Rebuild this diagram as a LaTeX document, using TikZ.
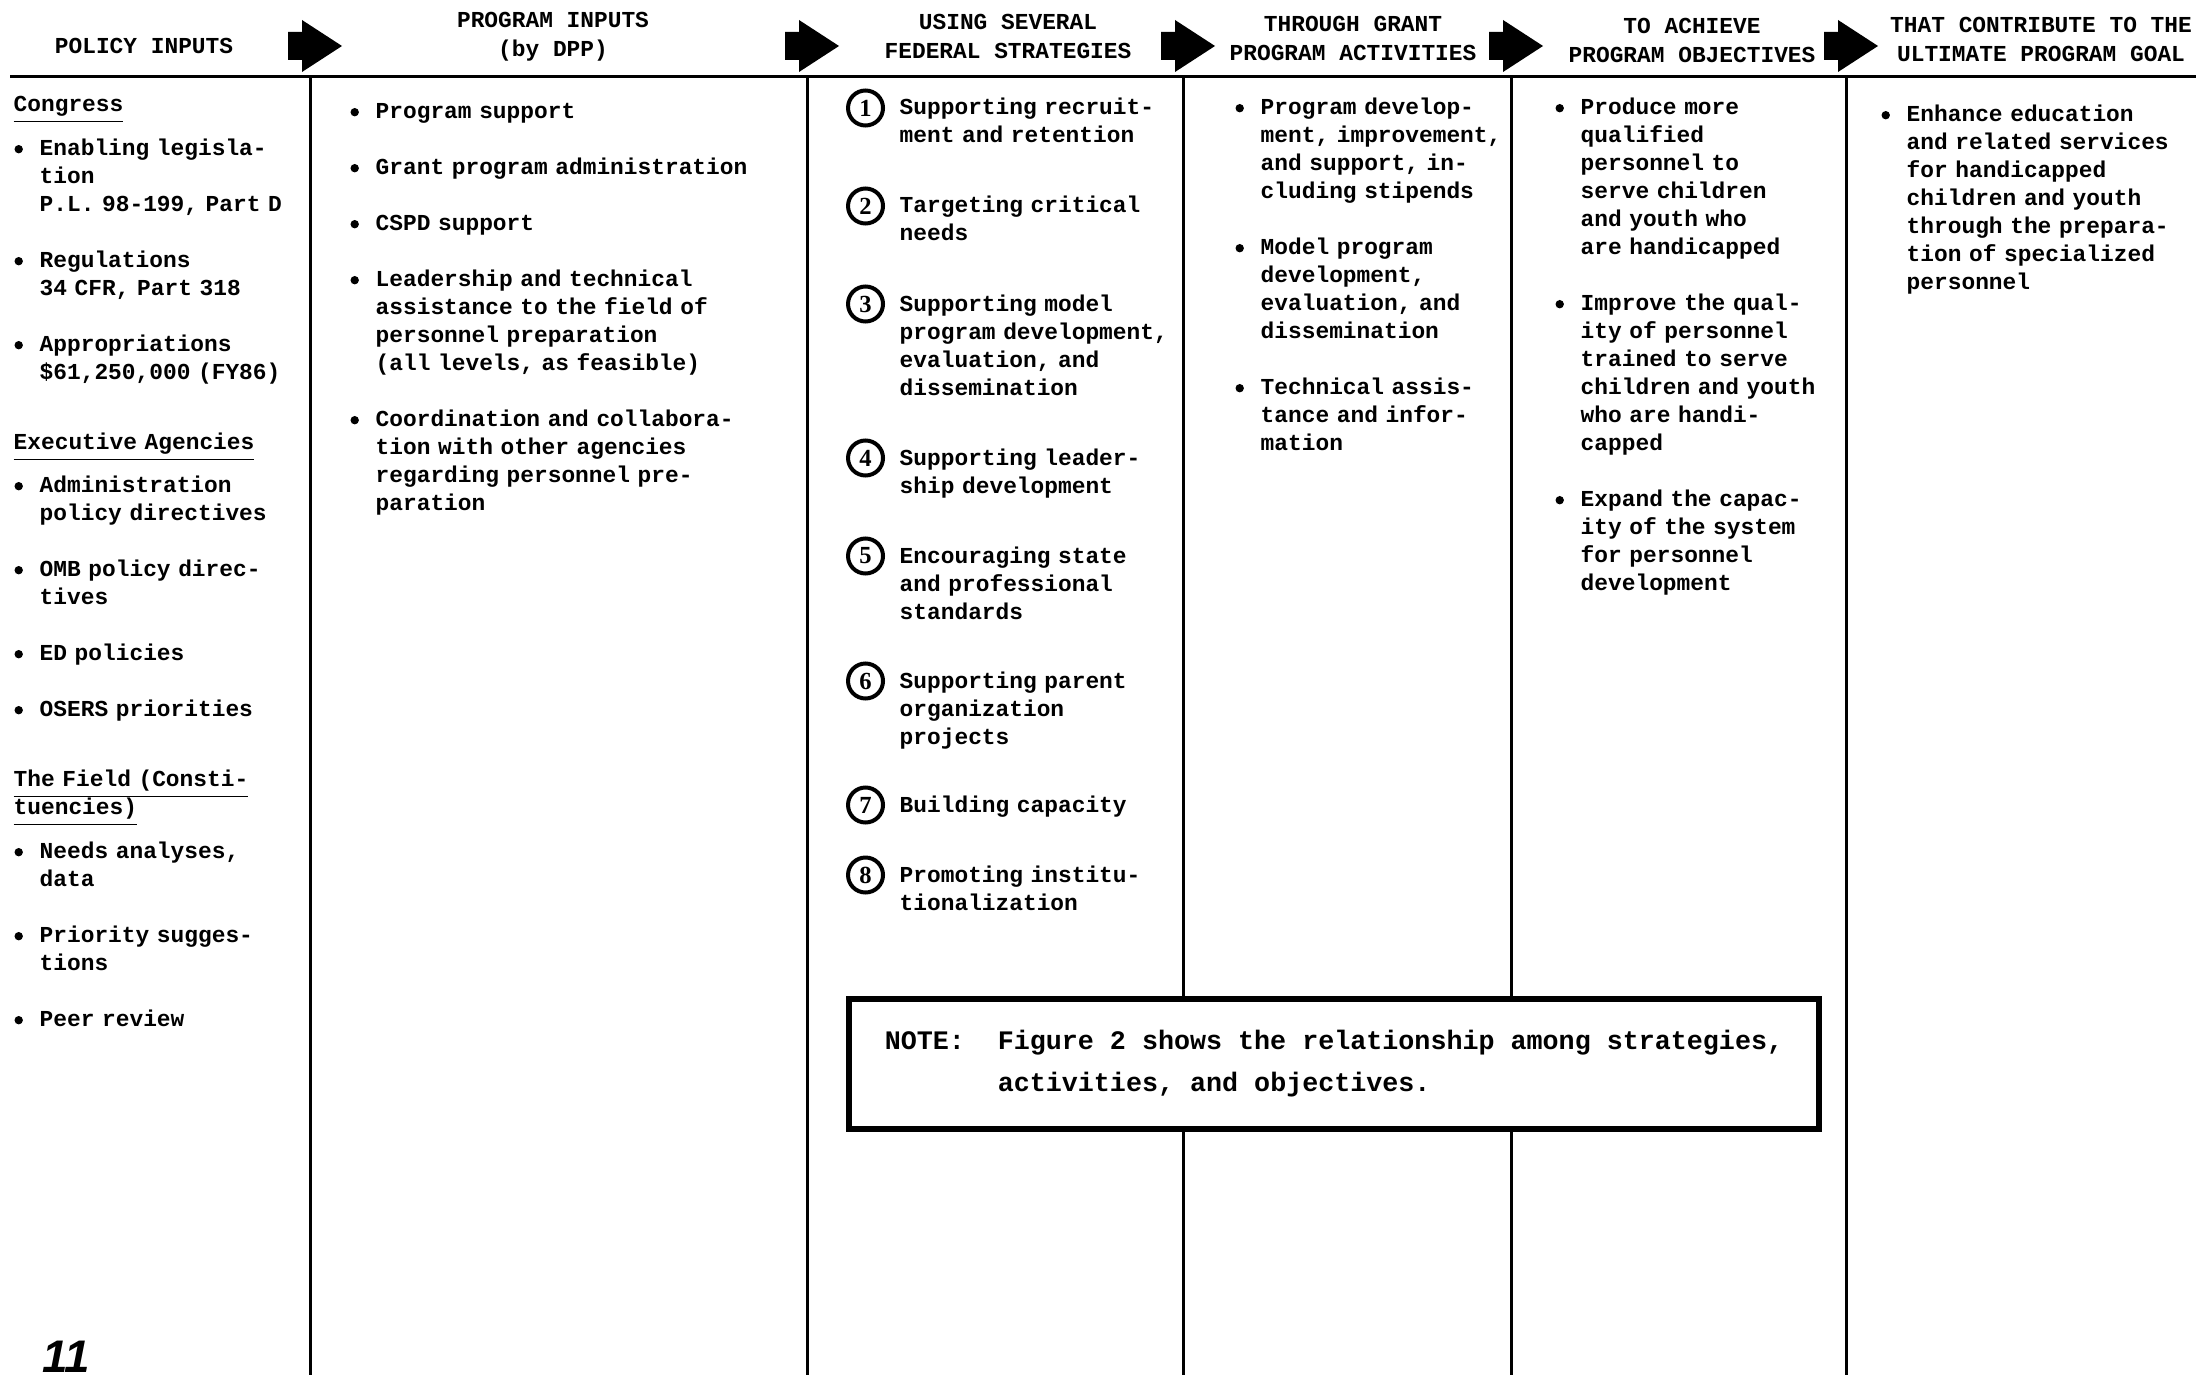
\documentclass[tikz,border=0pt]{standalone}
\usepackage{fontspec}
\setmonofont{Liberation Mono}
\newfontfamily\pagefont{Liberation Sans}
\newfontfamily\numberfont{Liberation Serif}
\usetikzlibrary{
	positioning,
	calc
}

\newcommand\bodyfont{\ttfamily\bfseries\fontsize{6.5pt}{2.8mm}\selectfont}
\newcommand\headfont{\ttfamily\bfseries\fontsize{6.5pt}{2.9mm}\selectfont}
\newcommand\notefont{\ttfamily\bfseries\fontsize{7.6pt}{4.2mm}\selectfont}
\newcommand\blt{\leavevmode\llap{\tikz[baseline]\fill (0,0.68mm) circle (0.42mm);\hspace{1.68mm}}}
\newcommand\grouphead[1]{\leavevmode\hspace*{-2.6mm}\smash{\underline{#1}}}

\begin{document}
\begin{tikzpicture}[
		x=0.1mm, y=-0.1mm,
		every node/.style={inner sep=0pt},
		colhead/.style={align=center, font=\headfont},
		coltext/.style={anchor=base west, align=left, text width=#1, font=\bodyfont},
		coltext/.default=30mm,
		stepnum/.style={circle, draw, line width=0.4mm, minimum size=3.5mm,
			font=\numberfont\bfseries\fontsize{7pt}{7pt}\selectfont},
		notebox/.style={draw, line width=0.55mm, fill=white, align=left,
			minimum width=97mm, minimum height=13mm, font=\notefont},
		blockarrow/.style={fill=black},
		rule/.style={line width=0.3mm}
		]
		
		\useasboundingbox (0,0) rectangle (2196,1379);
		\fill[white] (0,0) rectangle (2196,1379);
		
		% header rule, column lines and arrows
		\draw[rule] (10,77) -- (2196,77);
		\foreach \x [count=\i] in {310,807,1183,1511,1846} {
			\coordinate (top\i) at (\x,77);
			\coordinate (bot\i) at (\x,1375);
			\draw[rule] (top\i) -- (bot\i);
			\fill[blockarrow] ($(top\i)+(-22,-45)$) -- ++(14,0) -- ++(0,-12) -- ++(40,26)
				-- ++(-40,26) -- ++(0,-12) -- ++(-14,0) -- cycle;
		}
		
		% column headings
		\node[colhead] (h1) at (144,46) {POLICY INPUTS};
		\node[colhead] (h2) at (553,37) {PROGRAM INPUTS\\(by DPP)};
		\node[colhead] (h3) at (1008,36) {USING SEVERAL\\FEDERAL STRATEGIES};
		\node[colhead] (h4) at (1353,38) {THROUGH GRANT\\PROGRAM ACTIVITIES};
		\node[colhead] (h5) at (1692,40) {TO ACHIEVE\\PROGRAM OBJECTIVES};
		\node[colhead] (h6) at (2041,39) {THAT CONTRIBUTE TO THE\\ULTIMATE PROGRAM GOAL};
		
		% policy inputs
		\node[coltext=30mm] (policy) at (39,112) {\grouphead{Congress}\\[1.6mm]
			\blt Enabling legisla-\\tion\\P.L. 98-199, Part D\\[2.8mm]
			\blt Regulations\\34 CFR, Part 318\\[2.8mm]
			\blt Appropriations\\\$61,250,000 (FY86)\\[4.2mm]
			\grouphead{Executive Agencies}\\[1.5mm]
			\blt Administration\\policy directives\\[2.8mm]
			\blt OMB policy direc-\\tives\\[2.8mm]
			\blt ED policies\\[2.8mm]
			\blt OSERS priorities\\[4.2mm]
			\grouphead{The Field (Consti-}\\\grouphead{tuencies)}\\[1.6mm]
			\blt Needs analyses,\\data\\[2.8mm]
			\blt Priority sugges-\\tions\\[2.8mm]
			\blt Peer review};
		
		% program inputs
		\node[coltext=45mm] (program) at (375,119) {\blt Program support\\[2.8mm]
			\blt Grant program administration\\[2.8mm]
			\blt CSPD support\\[2.8mm]
			\blt Leadership and technical\\assistance to the field of\\personnel preparation\\(all levels, as feasible)\\[2.8mm]
			\blt Coordination and collabora-\\tion with other agencies\\regarding personnel pre-\\paration};
		
		% federal strategies
		\foreach \n/\y/\t in {
			1/115/{Supporting recruit-\\ment and retention},
			2/213/{Targeting critical\\needs},
			3/311/{Supporting model\\program development,\\evaluation, and\\dissemination},
			4/465/{Supporting leader-\\ship development},
			5/563/{Encouraging state\\and professional\\standards},
			6/688/{Supporting parent\\organization\\projects},
			7/812/{Building capacity},
			8/882/{Promoting institu-\\tionalization}} {
			\node[coltext=28mm] (s\n) at (899,\y) {\t};
			\node[stepnum, left=1.4mm of s\n.base west, yshift=0.7mm] (c\n) {\n};
		}
		
		% grant program activities
		\node[coltext=25.5mm] (activities) at (1260,115) {\blt Program develop-\\ment, improvement,\\and support, in-\\cluding stipends\\[2.8mm]
			\blt Model program\\development,\\evaluation, and\\dissemination\\[2.8mm]
			\blt Technical assis-\\tance and infor-\\mation};
		
		% program objectives
		\node[coltext=26mm] (objectives) at (1580,115) {\blt Produce more\\qualified\\personnel to\\serve children\\and youth who\\are handicapped\\[2.8mm]
			\blt Improve the qual-\\ity of personnel\\trained to serve\\children and youth\\who are handi-\\capped\\[2.8mm]
			\blt Expand the capac-\\ity of the system\\for personnel\\development};
		
		% program goal
		\node[coltext=29mm] (goal) at (1906,122) {\blt Enhance education\\and related services\\for handicapped\\children and youth\\through the prepara-\\tion of specialized\\personnel};
		
		% note
		\node[notebox] (note) at (1334,1064) {\makebox[11.3mm][l]{NOTE:}Figure 2 shows the relationship among strategies,\\
			\hspace*{11.3mm}activities, and objectives.};
		
		\node[anchor=base west, font=\pagefont\bfseries\itshape\fontsize{13pt}{13pt}\selectfont] (pageno) at (42,1372) {11};
	\end{tikzpicture}
\end{document}
